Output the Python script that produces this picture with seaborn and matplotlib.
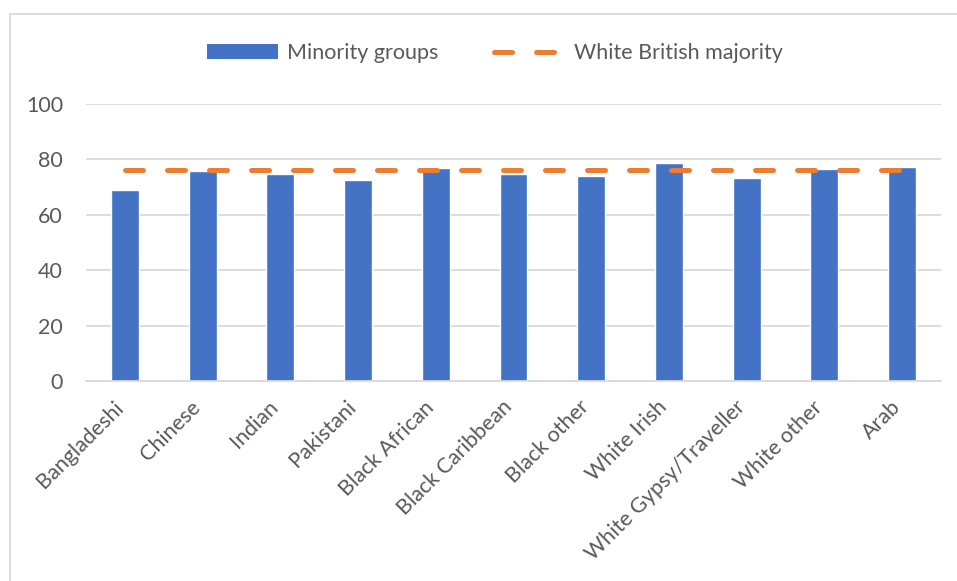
import matplotlib
matplotlib.use("Agg")
import matplotlib.pyplot as plt
import matplotlib.transforms as mtransforms
import seaborn as sns
import pandas as pd
from matplotlib.patches import Rectangle
from matplotlib.lines import Line2D
from matplotlib.patches import Patch

categories = ["Bangladeshi", "Chinese", "Indian", "Pakistani", "Black African",
              "Black Caribbean", "Black other", "White Irish", "White Gypsy/Traveller",
              "White other", "Arab"]
minority = [69.1, 75.9, 74.8, 72.4, 76.8, 74.8, 74.1, 78.6, 73.2, 76.4, 77.4]
majority = [76.1, 76.1, 76.1, 76.1, 76.1, 76.1, 76.1, 76.1, 76.1, 76.1, 76.1]
yticks = [0, 20, 40, 60, 80, 100]

sns.set_theme(style="white")
plt.rcParams['font.family'] = ['Lato', 'DejaVu Sans']
TXT = "#595959"
BLUE = "#4472C4"
ORANGE = "#ED7D31"
GRID = "#D9D9D9"

fig = plt.figure(figsize=(9.57, 5.81), dpi=100)
ax = fig.add_axes([86/957, 1-381/581, (941-86)/957, (381-104)/581])

df = pd.DataFrame({"category": categories, "minority": minority, "majority": majority})
sns.barplot(data=df, x="category", y="minority", color=BLUE, width=0.36,
            saturation=1, ax=ax, zorder=2)
sns.lineplot(data=df, x="category", y="majority", ax=ax, color=ORANGE,
             linewidth=3.6, dashes=False, zorder=3)
line = ax.lines[-1]
line.set_dashes((3.6, 4.8))
line.set_dash_capstyle("round")

ax.set_ylim(0, 100)
ax.set_xlim(-0.5, len(categories) - 0.5)
ax.set_yticks(yticks)
ax.set_yticklabels([str(v) for v in yticks])
ax.yaxis.grid(True, color=GRID, linewidth=1.3, zorder=0)
ax.set_axisbelow(True)
for s in ["left", "right", "top"]:
    ax.spines[s].set_visible(False)
ax.spines["bottom"].set_color(GRID)
ax.spines["bottom"].set_linewidth(1.3)
ax.set_xlabel("")
ax.set_ylabel("")
ax.tick_params(axis="y", length=0, pad=16.5, labelsize=15.5, labelcolor=TXT)
ax.tick_params(axis="x", length=0, pad=13, labelsize=15.5, labelcolor=TXT)
offset = mtransforms.ScaledTranslation(-5/100, -5/100, fig.dpi_scale_trans)
for lab in ax.get_xticklabels():
    lab.set_rotation(45)
    lab.set_ha("right")
    lab.set_va("center")
    lab.set_rotation_mode("anchor")
    lab.set_transform(lab.get_transform() + offset)

handles = [Patch(facecolor=BLUE, edgecolor="none"),
           Line2D([0], [0], color=ORANGE, linewidth=3.6, dashes=(3.6, 4.8),
                  dash_capstyle="round")]
leg = fig.legend(handles, ["Minority groups", "White British majority"],
                 loc="center", bbox_to_anchor=(495/957, 1-53/581), ncol=2,
                 frameon=False, fontsize=15.5, handlelength=3.3, handleheight=0.65,
                 columnspacing=2.6, handletextpad=0.4, labelcolor=TXT)

fig.patches.append(Rectangle((10/957, -0.1), 1.2, 1 - 14/581 + 0.1,
                             transform=fig.transFigure, fill=False,
                             edgecolor=GRID, linewidth=1.3))

fig.savefig("out.png", dpi=100)
